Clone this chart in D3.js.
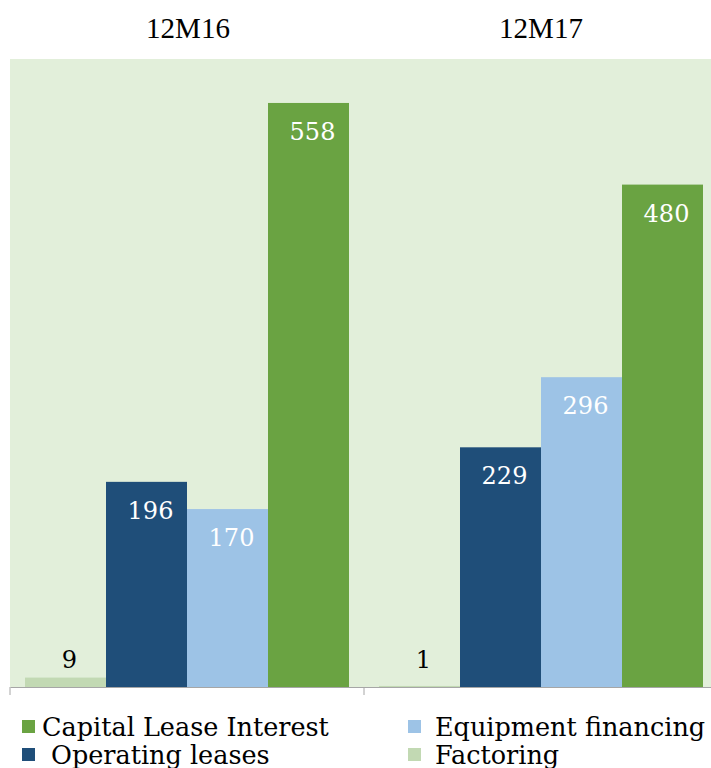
<!DOCTYPE html>
<html><head><meta charset="utf-8">
<script src="https://cdn.jsdelivr.net/npm/d3@7"></script>
<style>body{margin:0;background:#fff}</style>
</head><body>
<svg id="c" width="711" height="768"></svg>
<script>
const periods = ["12M16", "12M17"];
const seriesNames = ["Factoring", "Operating leases", "Equipment financing", "Capital Lease Interest"];
const factoring = [9, 1];
const operatingLeases = [196, 229];
const equipmentFinancing = [170, 296];
const capitalLease = [558, 480];
const yTicks = [0, 600];

const colors = {"Factoring":"#C2D9B3","Operating leases":"#1F4E79","Equipment financing":"#9DC3E6","Capital Lease Interest":"#6AA342"};
const valuesBySeries = [factoring, operatingLeases, equipmentFinancing, capitalLease];

const svg = d3.select("#c");
const plotL = 10, plotR = 718, plotT = 59, plotB = 687;

const x0 = d3.scaleBand().domain(periods).range([plotL, plotR]).paddingInner(0).paddingOuter(0);
const x1 = d3.scaleBand().domain(seriesNames).range([15, x0.bandwidth()-15]).padding(0);
const y = d3.scaleLinear().domain(d3.extent(yTicks)).range([plotB, plotT]);

svg.append("rect").attr("x", plotL).attr("y", plotT).attr("width", 711-plotL).attr("height", plotB-plotT).attr("fill", "#E2EFDA");

const data = [];
periods.forEach((p, i) => seriesNames.forEach((s, j) => data.push({p, s, v: valuesBySeries[j][i]})));

const g = svg.append("g");
g.selectAll("rect.bar").data(data).enter().append("rect")
  .attr("x", d => x0(d.p) + x1(d.s))
  .attr("y", d => y(d.v))
  .attr("width", x1.bandwidth())
  .attr("height", d => y(0) - y(d.v))
  .attr("fill", d => colors[d.s]);

g.selectAll("text.lbl").data(data).enter().append("text")
  .attr("x", d => x0(d.p) + x1(d.s) + x1.bandwidth()/2 + 4)
  .attr("y", d => d.v < 50 ? y(0) - 19 : y(d.v) + 37)
  .attr("text-anchor", "middle")
  .attr("font-family", "DejaVu Serif")
  .attr("font-size", 24)
  .attr("fill", d => d.v < 50 ? "#000" : "#fff")
  .text(d => d.v);

// axis
const ax = svg.append("g").attr("transform", `translate(0,${plotB})`)
  .call(d3.axisBottom(x0).tickSizeOuter(0).tickSizeInner(0).tickFormat(""));
ax.select(".domain").attr("stroke", "#A6A6A6");
ax.selectAll(".tick").remove();
[plotL, x0("12M17")].forEach(xx => {
  svg.append("line").attr("x1", xx).attr("x2", xx).attr("y1", plotB).attr("y2", plotB+8).attr("stroke", "#A6A6A6");
});

// titles
svg.selectAll("text.title").data(periods).enter().append("text")
  .attr("x", d => d === "12M16" ? 188 : 541)
  .attr("y", 38)
  .attr("text-anchor", "middle")
  .attr("font-family", "Liberation Serif")
  .attr("font-size", 29)
  .attr("fill", "#000")
  .text(d => d);

// legend
const legendItems = [
  {s:"Capital Lease Interest", x:22, tx:42, y:727},
  {s:"Equipment financing", x:408, tx:435, y:727},
  {s:"Operating leases", x:22, tx:51, y:755},
  {s:"Factoring", x:408, tx:435, y:755}
];
const lg = svg.append("g");
legendItems.forEach(it => {
  lg.append("rect").attr("x", it.x).attr("y", it.y - 7).attr("width", 13).attr("height", 13).attr("fill", colors[it.s]);
  lg.append("text").attr("x", it.tx).attr("y", it.y + 9)
    .attr("font-family", "DejaVu Serif").attr("font-size", 25.5).attr("fill", "#000").text(it.s);
});
</script>
</body></html>
